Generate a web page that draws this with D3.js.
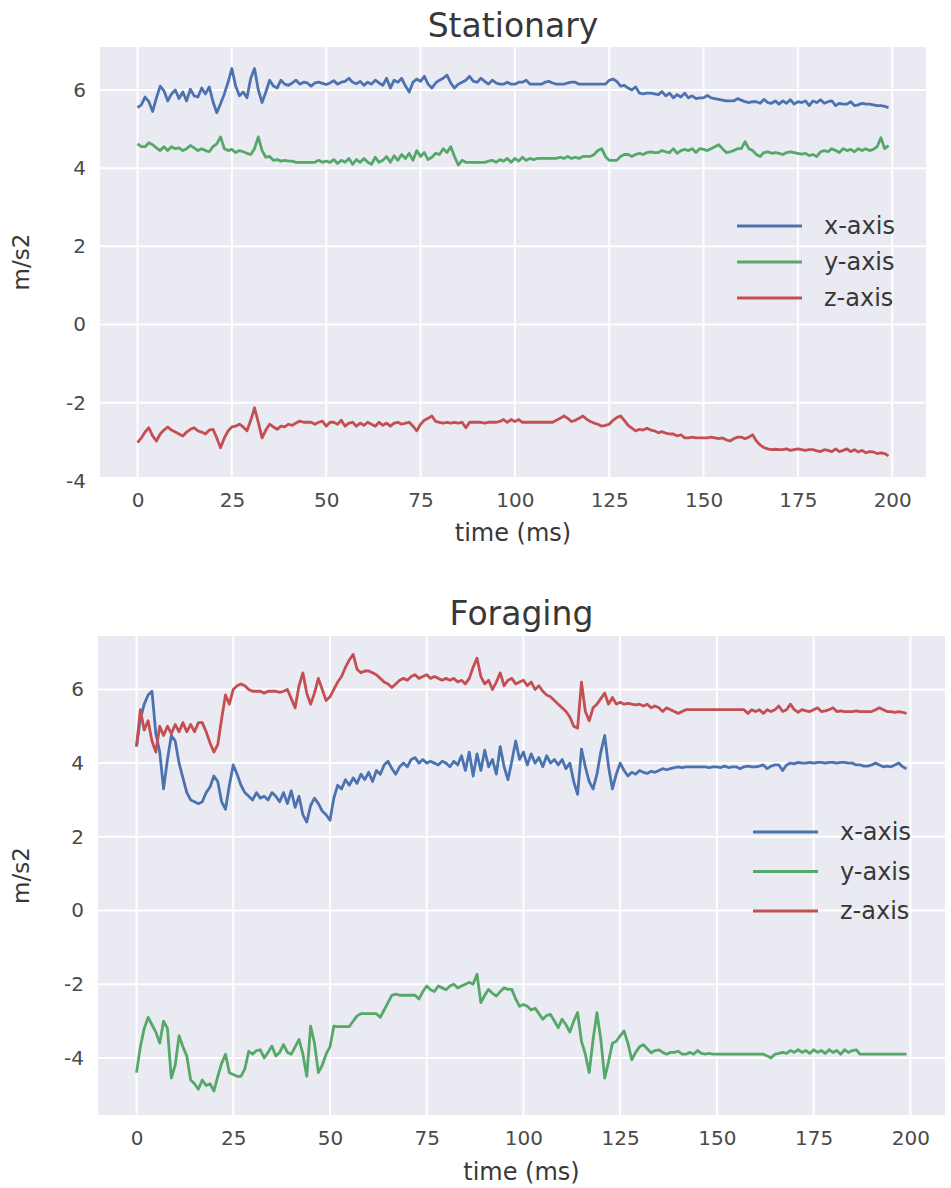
<!DOCTYPE html>
<html lang="en">
<head>
<meta charset="UTF-8">
<title>Accelerometer</title>
<script src="https://d3js.org/d3.v7.min.js"></script>
<style>
  body { margin: 0; background: #fff; }
  svg { display: block; }
  text { font-family: "DejaVu Sans", sans-serif; fill: #383838; }
  .grid line { stroke: #fff; stroke-width: 2; }
  .tick text { font-size: 20px; fill: #4a4a4a; }
</style>
</head>
<body>
<div id="chart"></div>
<script>
// series labels / colours (seaborn deep)
var seriesNames = ["x-axis", "y-axis", "z-axis"];
var seriesColors = ["#4C72B0", "#55A868", "#C44E52"];
var xTicks = [0, 25, 50, 75, 100, 125, 150, 175, 200];
var yTicks = [-4, -2, 0, 2, 4, 6];

// Stationary
var statX = [
  5.55, 5.62, 5.82, 5.7, 5.45, 5.8, 6.1, 5.98, 5.72, 5.9,
  6.0, 5.78, 5.95, 5.72, 6.02, 5.85, 5.82, 6.05, 5.9, 6.08,
  5.7, 5.42, 5.65, 5.9, 6.2, 6.55, 6.1, 5.85, 5.95, 5.8,
  6.3, 6.55, 6.0, 5.68, 5.95, 6.25, 6.1, 6.05, 6.25, 6.15,
  6.12, 6.18, 6.25, 6.15, 6.2, 6.18, 6.1, 6.18, 6.2, 6.17,
  6.14, 6.18, 6.24, 6.15, 6.2, 6.22, 6.3, 6.2, 6.16, 6.22,
  6.12, 6.2, 6.15, 6.25, 6.18, 6.12, 6.3, 6.05, 6.25, 6.2,
  6.3, 6.1, 5.95, 6.2, 6.28, 6.22, 6.35, 6.15, 6.05, 6.18,
  6.25, 6.3, 6.38, 6.18, 6.05, 6.15, 6.2, 6.25, 6.35, 6.22,
  6.2, 6.3, 6.22, 6.15, 6.25, 6.18, 6.15, 6.15, 6.2, 6.15,
  6.15, 6.2, 6.2, 6.25, 6.15, 6.15, 6.15, 6.15, 6.2, 6.22,
  6.18, 6.15, 6.15, 6.15, 6.18, 6.2, 6.2, 6.15, 6.15, 6.15,
  6.15, 6.15, 6.15, 6.15, 6.15, 6.25, 6.28, 6.22, 6.1, 6.12,
  6.05, 6.0, 6.08, 5.92, 5.9, 5.92, 5.92, 5.9, 5.88, 5.96,
  5.85, 5.92, 5.8, 5.88, 5.82, 5.92, 5.8, 5.85, 5.78, 5.8,
  5.8, 5.86, 5.8, 5.78, 5.76, 5.74, 5.72, 5.72, 5.72, 5.78,
  5.74, 5.7, 5.68, 5.7, 5.7, 5.66, 5.76, 5.68, 5.66, 5.72,
  5.64, 5.72, 5.66, 5.75, 5.64, 5.7, 5.68, 5.72, 5.6, 5.72,
  5.68, 5.75, 5.66, 5.7, 5.72, 5.6, 5.66, 5.64, 5.64, 5.7,
  5.6, 5.62, 5.66, 5.64, 5.64, 5.62, 5.6, 5.6, 5.58, 5.55
];
var statY = [
  4.62, 4.55, 4.55, 4.65, 4.6, 4.52, 4.45, 4.55, 4.45, 4.55,
  4.5, 4.52, 4.45, 4.5, 4.58, 4.52, 4.45, 4.5, 4.45, 4.42,
  4.55, 4.62, 4.8, 4.5, 4.45, 4.48, 4.4, 4.45, 4.42, 4.38,
  4.35, 4.5, 4.8, 4.45, 4.28, 4.3, 4.2, 4.22, 4.18, 4.2,
  4.18, 4.18, 4.15, 4.15, 4.15, 4.15, 4.15, 4.15, 4.2, 4.15,
  4.18, 4.15, 4.22, 4.12, 4.2, 4.15, 4.25, 4.1, 4.22, 4.15,
  4.25, 4.15, 4.1, 4.28, 4.15, 4.2, 4.3, 4.15, 4.32, 4.2,
  4.35, 4.25, 4.38, 4.2, 4.45, 4.3, 4.4, 4.22, 4.28, 4.38,
  4.35, 4.5, 4.4, 4.55, 4.3, 4.08, 4.2, 4.15, 4.15, 4.15,
  4.15, 4.15, 4.15, 4.18, 4.2, 4.15, 4.22, 4.18, 4.25, 4.15,
  4.25, 4.18, 4.28, 4.2, 4.25, 4.22, 4.25, 4.25, 4.25, 4.25,
  4.25, 4.25, 4.28, 4.25, 4.3, 4.25, 4.28, 4.25, 4.3, 4.3,
  4.3, 4.35, 4.45, 4.5, 4.3, 4.2, 4.2, 4.2, 4.3, 4.35,
  4.35, 4.3, 4.35, 4.38, 4.35, 4.4, 4.42, 4.4, 4.4, 4.45,
  4.42, 4.4, 4.5, 4.38, 4.45, 4.48, 4.45, 4.5, 4.4, 4.5,
  4.48, 4.45, 4.5, 4.55, 4.6, 4.5, 4.4, 4.42, 4.45, 4.5,
  4.5, 4.68, 4.5, 4.45, 4.35, 4.3, 4.4, 4.42, 4.38, 4.4,
  4.38, 4.35, 4.4, 4.42, 4.4, 4.38, 4.36, 4.38, 4.32, 4.35,
  4.3, 4.42, 4.45, 4.42, 4.5, 4.45, 4.4, 4.5, 4.45, 4.48,
  4.42, 4.5, 4.45, 4.5, 4.45, 4.48, 4.55, 4.78, 4.5, 4.58
];
var statZ = [
  -3.02, -2.9, -2.75, -2.64, -2.85, -2.98, -2.8, -2.7, -2.62, -2.7,
  -2.75, -2.8, -2.85, -2.75, -2.68, -2.64, -2.72, -2.75, -2.8, -2.7,
  -2.68, -2.9, -3.15, -2.9, -2.72, -2.62, -2.6, -2.55, -2.62, -2.72,
  -2.45, -2.13, -2.5, -2.9, -2.7, -2.55, -2.62, -2.68, -2.6, -2.62,
  -2.55, -2.58, -2.52, -2.47, -2.5, -2.5, -2.5, -2.55, -2.5, -2.47,
  -2.6, -2.5, -2.5, -2.55, -2.45, -2.6, -2.52, -2.5, -2.6, -2.52,
  -2.58, -2.5, -2.55, -2.6, -2.5, -2.58, -2.52, -2.6, -2.52, -2.5,
  -2.55, -2.52, -2.5, -2.6, -2.72, -2.55, -2.45, -2.4, -2.34, -2.48,
  -2.5, -2.52, -2.5, -2.52, -2.5, -2.52, -2.5, -2.64, -2.5, -2.5,
  -2.5, -2.5, -2.52, -2.5, -2.5, -2.5, -2.48, -2.43, -2.5, -2.43,
  -2.48, -2.43, -2.5, -2.5, -2.5, -2.5, -2.5, -2.5, -2.5, -2.5,
  -2.5, -2.45, -2.4, -2.34, -2.4, -2.48, -2.45, -2.4, -2.34, -2.42,
  -2.48, -2.52, -2.55, -2.6, -2.58, -2.55, -2.45, -2.38, -2.34, -2.45,
  -2.58, -2.65, -2.72, -2.68, -2.7, -2.65, -2.7, -2.72, -2.77, -2.74,
  -2.78, -2.8, -2.8, -2.85, -2.82, -2.9, -2.9, -2.88, -2.9, -2.9,
  -2.9, -2.9, -2.88, -2.9, -2.92, -2.9, -2.95, -2.98, -2.92, -2.88,
  -2.88, -2.92, -2.88, -2.82, -2.98, -3.08, -3.15, -3.18, -3.2, -3.19,
  -3.2, -3.2, -3.18, -3.22, -3.2, -3.18, -3.2, -3.22, -3.2, -3.2,
  -3.23, -3.25, -3.2, -3.22, -3.25, -3.18, -3.25, -3.22, -3.18, -3.25,
  -3.2, -3.26, -3.22, -3.28, -3.25, -3.26, -3.3, -3.28, -3.3, -3.36
];

// Foraging
var foraX = [
  4.45, 5.2, 5.6, 5.85, 5.95, 4.8, 4.3, 3.3, 4.1, 4.75,
  4.6, 4.0, 3.6, 3.2, 3.0, 2.95, 2.9, 2.95, 3.2, 3.35,
  3.65, 3.5, 2.95, 2.75, 3.4, 3.95, 3.7, 3.4, 3.2, 3.1,
  3.0, 3.2, 3.05, 3.1, 3.0, 3.2, 3.1, 2.95, 3.2, 2.9,
  3.25, 2.8, 3.1, 2.6, 2.4, 2.85, 3.05, 2.9, 2.7, 2.6,
  2.45, 3.05, 3.4, 3.3, 3.55, 3.4, 3.6, 3.45, 3.7, 3.55,
  3.75, 3.5, 3.8, 3.7, 3.95, 4.05, 3.85, 3.7, 3.9, 4.0,
  3.9, 4.1, 4.15, 4.0, 4.1, 4.0, 4.05, 4.0, 3.95, 4.05,
  4.0, 3.9, 4.05, 3.95, 4.2, 3.8, 4.3, 3.65, 4.25, 3.8,
  4.35, 3.9, 4.1, 3.7, 4.45, 3.9, 3.55, 4.05, 4.6, 4.1,
  4.3, 3.95, 4.25, 4.0, 4.15, 3.9, 4.2, 4.0, 4.1, 3.95,
  4.1, 3.85, 4.0, 3.5, 3.15, 4.38, 3.9, 3.5, 3.3, 3.7,
  4.3, 4.75, 3.9, 3.3, 3.7, 4.0, 3.8, 3.65, 3.75, 3.7,
  3.8, 3.75, 3.72, 3.78, 3.75, 3.8, 3.85, 3.82, 3.85, 3.88,
  3.9, 3.88, 3.9, 3.9, 3.9, 3.9, 3.9, 3.9, 3.88, 3.9,
  3.9, 3.88, 3.92, 3.88, 3.9, 3.9, 3.85, 3.9, 3.92, 3.9,
  3.9, 3.92, 3.95, 3.85, 3.92, 3.95, 3.95, 3.8, 3.95, 4.0,
  3.98, 4.02, 4.0, 4.0, 4.02, 4.0, 4.02, 4.02, 4.0, 4.02,
  4.02, 4.0, 4.02, 4.02, 4.0, 4.0, 3.95, 3.95, 3.92, 3.92,
  3.95, 4.0, 3.95, 3.9, 3.92, 3.9, 3.95, 4.0, 3.9, 3.85
];
var foraY = [
  -4.4, -3.7, -3.2, -2.9, -3.1, -3.3, -3.6, -3.0, -3.2, -4.55,
  -4.2, -3.4, -3.7, -3.95, -4.6, -4.7, -4.85, -4.6, -4.75, -4.7,
  -4.9, -4.5, -4.15, -3.9, -4.4, -4.45, -4.5, -4.5, -4.3, -3.82,
  -3.9, -3.8, -3.78, -4.0, -3.85, -3.68, -3.95, -3.85, -3.64, -3.85,
  -3.9, -3.7, -3.5, -3.9, -4.5, -3.14, -3.6, -4.4, -4.2, -3.9,
  -3.7, -3.14, -3.15, -3.15, -3.15, -3.15, -3.0, -2.86, -2.8, -2.8,
  -2.8, -2.8, -2.8, -2.9, -2.7, -2.5, -2.3, -2.27, -2.3, -2.3,
  -2.3, -2.3, -2.3, -2.4, -2.2, -2.05, -2.15, -2.2, -2.05, -2.1,
  -2.15, -2.05, -2.0, -2.1, -2.05, -2.0, -1.95, -2.0, -1.73, -2.5,
  -2.3, -2.14, -2.25, -2.32, -2.2, -2.1, -2.14, -2.14, -2.4, -2.6,
  -2.55, -2.6, -2.7, -2.65, -2.8, -2.95, -2.85, -2.82, -3.0, -3.18,
  -2.95, -3.1, -3.3, -3.0, -2.77, -3.55, -3.9, -4.4, -3.5, -2.77,
  -3.5, -4.55, -4.1, -3.6, -3.55, -3.4, -3.27, -3.6, -4.05, -3.85,
  -3.7, -3.64, -3.75, -3.86, -3.8, -3.78, -3.85, -3.9, -3.85, -3.85,
  -3.82, -3.9, -3.9, -3.85, -3.9, -3.8, -3.88, -3.9, -3.88, -3.9,
  -3.9, -3.9, -3.9, -3.9, -3.9, -3.9, -3.9, -3.9, -3.9, -3.9,
  -3.9, -3.9, -3.9, -3.95, -4.0, -3.9, -3.88, -3.85, -3.88, -3.8,
  -3.85, -3.78, -3.85, -3.8, -3.88, -3.78, -3.85, -3.8, -3.88, -3.78,
  -3.85, -3.8, -3.9, -3.78, -3.85, -3.8, -3.78, -3.9, -3.9, -3.9,
  -3.9, -3.9, -3.9, -3.9, -3.9, -3.9, -3.9, -3.9, -3.9, -3.9
];
var foraZ = [
  4.45, 5.45, 4.9, 5.15, 4.6, 4.3, 5.0, 4.75, 5.0, 4.8,
  5.05, 4.85, 5.1, 4.85, 5.05, 4.85, 5.1, 5.1, 4.85, 4.55,
  4.3, 4.5, 5.2, 5.85, 5.6, 6.0, 6.1, 6.15, 6.1, 6.0,
  5.95, 5.95, 5.95, 5.9, 5.95, 5.95, 5.95, 5.92, 5.95, 6.0,
  5.75, 5.5, 6.1, 6.45, 5.9, 5.6, 5.9, 6.3, 6.0, 5.7,
  5.8, 6.0, 6.2, 6.35, 6.6, 6.8, 6.95, 6.55, 6.45, 6.5,
  6.5, 6.45, 6.4, 6.3, 6.2, 6.15, 6.05, 6.15, 6.25, 6.3,
  6.25, 6.35, 6.4, 6.3, 6.35, 6.4, 6.3, 6.35, 6.3, 6.25,
  6.3, 6.25, 6.3, 6.2, 6.25, 6.15, 6.3, 6.6, 6.85, 6.35,
  6.15, 6.25, 6.0, 6.2, 6.45, 6.1, 6.25, 6.3, 6.15, 6.2,
  6.25, 6.1, 6.2, 6.0, 6.1, 5.95, 5.85, 5.8, 5.7, 5.6,
  5.5, 5.4, 5.25, 5.0, 4.95, 6.2, 5.4, 5.15, 5.5, 5.6,
  5.75, 5.9, 5.6, 5.78, 5.6, 5.65, 5.6, 5.62, 5.6, 5.58,
  5.6, 5.55, 5.6, 5.5, 5.55, 5.5, 5.4, 5.5, 5.45, 5.4,
  5.35, 5.4, 5.45, 5.45, 5.45, 5.45, 5.45, 5.45, 5.45, 5.45,
  5.45, 5.45, 5.45, 5.45, 5.45, 5.45, 5.45, 5.45, 5.35, 5.45,
  5.4, 5.45, 5.35, 5.45, 5.4, 5.45, 5.55, 5.4, 5.45, 5.6,
  5.45, 5.38, 5.45, 5.42, 5.4, 5.45, 5.5, 5.4, 5.42, 5.45,
  5.5, 5.4, 5.42, 5.4, 5.4, 5.4, 5.42, 5.4, 5.4, 5.4,
  5.4, 5.45, 5.5, 5.45, 5.4, 5.4, 5.38, 5.4, 5.38, 5.35
];

var W = 951, H = 1188;
var svg = d3.select("#chart").append("svg").attr("width", W).attr("height", H);

var panels = [
  { title: "Stationary", series: [statX, statY, statZ],
    left: 100, right: 926, top: 47, bottom: 477,
    yDomain: [-3.9, 7.1], titleY: 37, xLabelY: 541,
    legendX: 737, legendY: 226, legendStep: 36 },
  { title: "Foraging", series: [foraX, foraY, foraZ],
    left: 98, right: 945, top: 636, bottom: 1115,
    yDomain: [-5.55, 7.45], titleY: 625, xLabelY: 1180,
    legendX: 753, legendY: 832, legendStep: 39.5 }
];

panels.forEach(function(p) {
  var g = svg.append("g");
  var x = d3.scaleLinear().domain([-9.95, 208.95]).range([p.left, p.right]);
  var y = d3.scaleLinear().domain(p.yDomain).range([p.bottom, p.top]);

  g.append("rect")
    .attr("x", p.left).attr("y", p.top)
    .attr("width", p.right - p.left).attr("height", p.bottom - p.top)
    .attr("fill", "#EAEAF2");

  // grid
  var grid = g.append("g").attr("class", "grid");
  grid.selectAll(".gx").data(xTicks).enter().append("line")
    .attr("x1", d => x(d)).attr("x2", d => x(d))
    .attr("y1", p.top).attr("y2", p.bottom);
  grid.selectAll(".gy").data(yTicks).enter().append("line")
    .attr("x1", p.left).attr("x2", p.right)
    .attr("y1", d => y(d)).attr("y2", d => y(d));

  // axes
  var xAxis = g.append("g").attr("transform", "translate(0," + p.bottom + ")")
    .call(d3.axisBottom(x).tickValues(xTicks).tickSize(0).tickPadding(16));
  var yAxis = g.append("g").attr("transform", "translate(" + p.left + ",0)")
    .call(d3.axisLeft(y).tickValues(yTicks).tickSize(0).tickPadding(14)
      .tickFormat(d => d < 0 ? "-" + Math.abs(d) : d));
  xAxis.select(".domain").remove();
  yAxis.select(".domain").remove();
  g.selectAll(".tick text").attr("font-family", null);

  // lines
  var line = d3.line().x((d, i) => x(i)).y(d => y(d));
  p.series.forEach(function(s, k) {
    g.append("path").datum(s)
      .attr("fill", "none")
      .attr("stroke", seriesColors[k])
      .attr("stroke-width", 2.8)
      .attr("stroke-linejoin", "round")
      .attr("d", line);
  });

  // titles & labels
  g.append("text").attr("x", (p.left + p.right) / 2).attr("y", p.titleY)
    .attr("text-anchor", "middle").attr("font-size", 33).text(p.title);
  g.append("text").attr("x", (p.left + p.right) / 2).attr("y", p.xLabelY)
    .attr("text-anchor", "middle").attr("font-size", 24).text("time (ms)");
  g.append("text")
    .attr("transform", "translate(29," + (p.top + p.bottom) / 2 + ") rotate(-90)")
    .attr("text-anchor", "middle").attr("font-size", 23).text("m/s2");

  // legend
  var leg = g.append("g");
  seriesNames.forEach(function(name, k) {
    var ly = p.legendY + k * p.legendStep;
    leg.append("line")
      .attr("x1", p.legendX).attr("x2", p.legendX + 65)
      .attr("y1", ly).attr("y2", ly)
      .attr("stroke", seriesColors[k]).attr("stroke-width", 3);
    leg.append("text").attr("x", p.legendX + 87).attr("y", ly).attr("dy", "0.35em")
      .attr("font-size", 24).attr("fill", "#4a4a4a").text(name);
  });
});
</script>
</body>
</html>
